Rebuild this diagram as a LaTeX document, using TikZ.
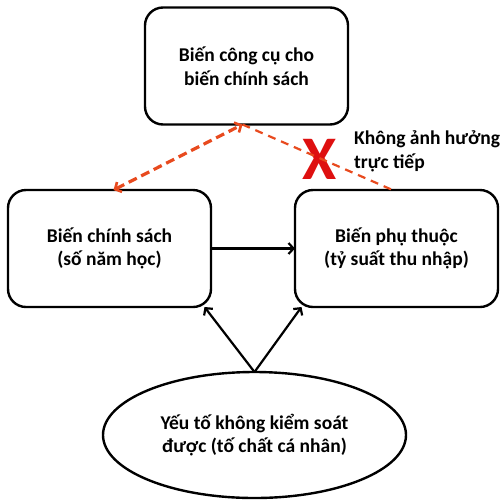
\documentclass[tikz,border=0pt]{standalone}
\usepackage{fontspec}
\setmainfont{Carlito}
\usetikzlibrary{arrows.meta,shapes.geometric}
\definecolor{dashred}{RGB}{232,74,30}
\definecolor{xred}{RGB}{222,16,16}
\begin{document}
\begin{tikzpicture}[x=1pt,y=-1pt,
  txt/.style={font=\fontsize{19.5}{23.5}\selectfont\bfseries},
  box/.style={txt, draw, line width=2.4pt, rounded corners=18pt, minimum width=203pt, minimum height=117pt, inner sep=0pt, outer sep=0pt, align=center},
  oval/.style={txt, ellipse, draw, line width=2.4pt, minimum width=303pt, minimum height=126pt, inner sep=0pt, outer sep=0pt, align=center},
  link/.style={line width=2.2pt, -{Straight Barb[length=5pt,width=11pt,line width=2.2pt]}},
  redlink/.style={dashred, line width=3.2pt, dash pattern=on 9pt off 5pt, {Straight Barb[length=5pt,width=11pt,line width=2.6pt]}-{Straight Barb[length=5pt,width=11pt,line width=2.6pt]}},
  redline/.style={dashred, line width=2.2pt, dash pattern=on 8pt off 6pt}
]
\useasboundingbox (0,0) rectangle (502,501);
\node[box] (top) at (246.5,66) {Biến công cụ cho\\biến chính sách};
\node[box] (left) at (109.5,248.5) {Biến chính sách\\(số năm học)};
\node[box] (right) at (396.5,248.5) {Biến phụ thuộc\\(tỷ suất thu nhập)};
\node[oval] (u) at (254.5,435) {Yếu tố không kiểm soát\\được (tố chất cá nhân)};
\node[txt, anchor=west, align=left, inner sep=0pt] (note) at (354,151.5) {Không ảnh hưởng\\trực tiếp};
\node[font=\fontsize{62}{62}\selectfont\bfseries, text=xred, inner sep=0pt] (x) at (320,159) {X};
\draw[link] (left.east) -- (right.west);
\draw[link] (u.north) -- ([xshift=95pt]left.south);
\draw[link] (u.north) -- ([xshift=-95pt]right.south);
\draw[redlink] ([xshift=4pt]left.north) -- ([xshift=-4pt]top.south);
\draw[redline] ([xshift=-4pt]top.south) -- ([xshift=-4pt]right.north);
\end{tikzpicture}
\end{document}
